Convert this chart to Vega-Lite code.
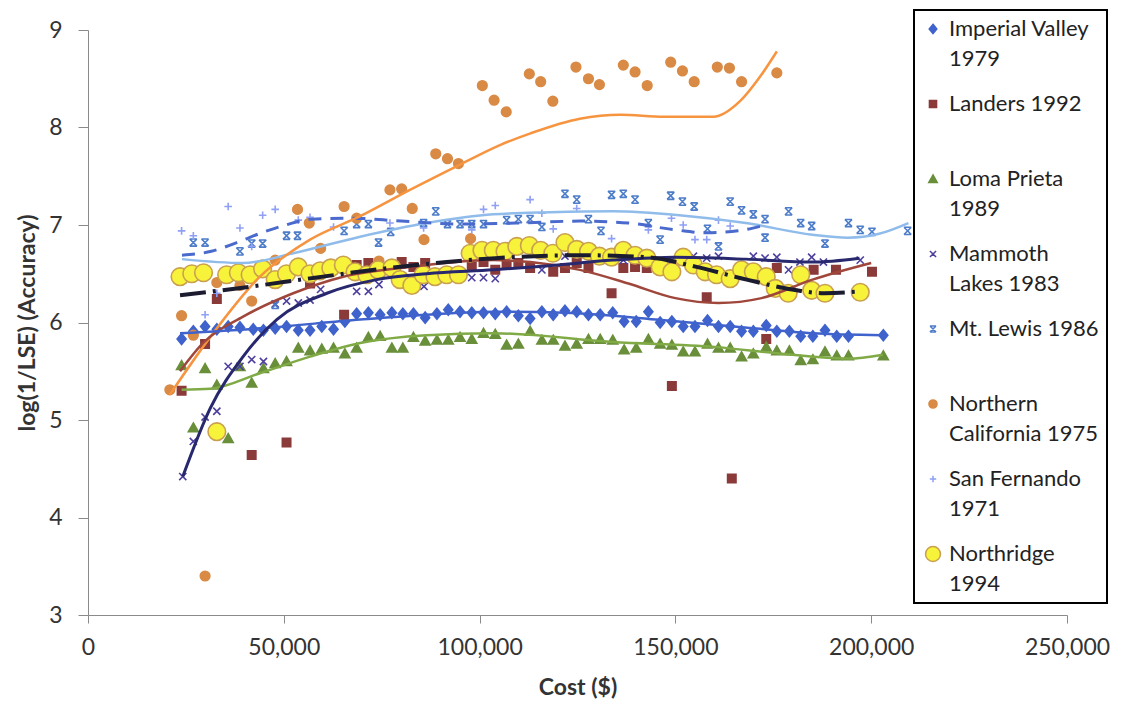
{
  "$schema": "https://vega.github.io/schema/vega-lite/v6.json",
  "width": 979,
  "height": 585,
  "autosize": {"type": "none"},
  "padding": {"left": 88, "top": 30, "right": 55, "bottom": 93},
  "background": "white",
  "config": {"view": {"stroke": null}, "font": "Lato", "legend": {"strokeWidth": 2}, "style": {"guide-label": {"lineHeight": 30}}},
  "datasets": {
    "pts": [
      {"s":"Imperial Valley 1979","x":23900,"y":5.83},{"s":"Imperial Valley 1979","x":26900,"y":5.91},{"s":"Imperial Valley 1979","x":29900,"y":5.96},{"s":"Imperial Valley 1979","x":32900,"y":5.93},{"s":"Imperial Valley 1979","x":35800,"y":5.96},{"s":"Imperial Valley 1979","x":38800,"y":5.95},{"s":"Imperial Valley 1979","x":42200,"y":5.93},{"s":"Imperial Valley 1979","x":44800,"y":5.92},{"s":"Imperial Valley 1979","x":47800,"y":5.94},{"s":"Imperial Valley 1979","x":50700,"y":5.96},{"s":"Imperial Valley 1979","x":53700,"y":5.92},{"s":"Imperial Valley 1979","x":56700,"y":5.92},{"s":"Imperial Valley 1979","x":59700,"y":5.96},{"s":"Imperial Valley 1979","x":62700,"y":5.93},{"s":"Imperial Valley 1979","x":65600,"y":6.01},{"s":"Imperial Valley 1979","x":68600,"y":6.09},{"s":"Imperial Valley 1979","x":71600,"y":6.10},{"s":"Imperial Valley 1979","x":74600,"y":6.08},{"s":"Imperial Valley 1979","x":77600,"y":6.10},{"s":"Imperial Valley 1979","x":80400,"y":6.09},{"s":"Imperial Valley 1979","x":83100,"y":6.09},{"s":"Imperial Valley 1979","x":86100,"y":6.05},{"s":"Imperial Valley 1979","x":89100,"y":6.09},{"s":"Imperial Valley 1979","x":92000,"y":6.13},{"s":"Imperial Valley 1979","x":95000,"y":6.11},{"s":"Imperial Valley 1979","x":98000,"y":6.10},{"s":"Imperial Valley 1979","x":101000,"y":6.10},{"s":"Imperial Valley 1979","x":104000,"y":6.09},{"s":"Imperial Valley 1979","x":106900,"y":6.11},{"s":"Imperial Valley 1979","x":109900,"y":6.07},{"s":"Imperial Valley 1979","x":112900,"y":6.04},{"s":"Imperial Valley 1979","x":115900,"y":6.11},{"s":"Imperial Valley 1979","x":118800,"y":6.08},{"s":"Imperial Valley 1979","x":121800,"y":6.12},{"s":"Imperial Valley 1979","x":124800,"y":6.11},{"s":"Imperial Valley 1979","x":127800,"y":6.08},{"s":"Imperial Valley 1979","x":130800,"y":6.08},{"s":"Imperial Valley 1979","x":134000,"y":6.10},{"s":"Imperial Valley 1979","x":136900,"y":6.01},{"s":"Imperial Valley 1979","x":140000,"y":6.01},{"s":"Imperial Valley 1979","x":143100,"y":6.11},{"s":"Imperial Valley 1979","x":146100,"y":6.00},{"s":"Imperial Valley 1979","x":149100,"y":6.01},{"s":"Imperial Valley 1979","x":152000,"y":5.96},{"s":"Imperial Valley 1979","x":155000,"y":5.96},{"s":"Imperial Valley 1979","x":158200,"y":6.02},{"s":"Imperial Valley 1979","x":161000,"y":5.96},{"s":"Imperial Valley 1979","x":164000,"y":5.96},{"s":"Imperial Valley 1979","x":166900,"y":5.91},{"s":"Imperial Valley 1979","x":169900,"y":5.91},{"s":"Imperial Valley 1979","x":173200,"y":5.97},{"s":"Imperial Valley 1979","x":175900,"y":5.91},{"s":"Imperial Valley 1979","x":179100,"y":5.91},{"s":"Imperial Valley 1979","x":182000,"y":5.86},{"s":"Imperial Valley 1979","x":185100,"y":5.86},{"s":"Imperial Valley 1979","x":188200,"y":5.92},{"s":"Imperial Valley 1979","x":191200,"y":5.86},{"s":"Imperial Valley 1979","x":194200,"y":5.86},{"s":"Imperial Valley 1979","x":203100,"y":5.87},
      {"s":"Landers 1992","x":23900,"y":5.30},{"s":"Landers 1992","x":29900,"y":5.78},{"s":"Landers 1992","x":32900,"y":6.24},{"s":"Landers 1992","x":41800,"y":4.64},{"s":"Landers 1992","x":50700,"y":4.77},{"s":"Landers 1992","x":56700,"y":6.40},{"s":"Landers 1992","x":65400,"y":6.08},{"s":"Landers 1992","x":68600,"y":6.59},{"s":"Landers 1992","x":71600,"y":6.61},{"s":"Landers 1992","x":80100,"y":6.62},{"s":"Landers 1992","x":83100,"y":6.57},{"s":"Landers 1992","x":86100,"y":6.61},{"s":"Landers 1992","x":98000,"y":6.57},{"s":"Landers 1992","x":101000,"y":6.62},{"s":"Landers 1992","x":104000,"y":6.54},{"s":"Landers 1992","x":106900,"y":6.59},{"s":"Landers 1992","x":109900,"y":6.61},{"s":"Landers 1992","x":112900,"y":6.56},{"s":"Landers 1992","x":118800,"y":6.52},{"s":"Landers 1992","x":121800,"y":6.56},{"s":"Landers 1992","x":124800,"y":6.61},{"s":"Landers 1992","x":127800,"y":6.56},{"s":"Landers 1992","x":133700,"y":6.30},{"s":"Landers 1992","x":136700,"y":6.56},{"s":"Landers 1992","x":139700,"y":6.57},{"s":"Landers 1992","x":142700,"y":6.56},{"s":"Landers 1992","x":149100,"y":5.35},{"s":"Landers 1992","x":158000,"y":6.26},{"s":"Landers 1992","x":164400,"y":4.40},{"s":"Landers 1992","x":173200,"y":5.83},{"s":"Landers 1992","x":175900,"y":6.56},{"s":"Landers 1992","x":185300,"y":6.54},{"s":"Landers 1992","x":191000,"y":6.54},{"s":"Landers 1992","x":200200,"y":6.52},
      {"s":"Loma Prieta 1989","x":23900,"y":5.56},{"s":"Loma Prieta 1989","x":26900,"y":4.92},{"s":"Loma Prieta 1989","x":29900,"y":5.53},{"s":"Loma Prieta 1989","x":32900,"y":5.36},{"s":"Loma Prieta 1989","x":35800,"y":4.81},{"s":"Loma Prieta 1989","x":38800,"y":5.55},{"s":"Loma Prieta 1989","x":41800,"y":5.38},{"s":"Loma Prieta 1989","x":44800,"y":5.53},{"s":"Loma Prieta 1989","x":47800,"y":5.58},{"s":"Loma Prieta 1989","x":50700,"y":5.60},{"s":"Loma Prieta 1989","x":53700,"y":5.74},{"s":"Loma Prieta 1989","x":56700,"y":5.71},{"s":"Loma Prieta 1989","x":59700,"y":5.73},{"s":"Loma Prieta 1989","x":62700,"y":5.74},{"s":"Loma Prieta 1989","x":65600,"y":5.68},{"s":"Loma Prieta 1989","x":68600,"y":5.74},{"s":"Loma Prieta 1989","x":71600,"y":5.85},{"s":"Loma Prieta 1989","x":74600,"y":5.86},{"s":"Loma Prieta 1989","x":77600,"y":5.74},{"s":"Loma Prieta 1989","x":80400,"y":5.74},{"s":"Loma Prieta 1989","x":83100,"y":5.85},{"s":"Loma Prieta 1989","x":86100,"y":5.81},{"s":"Loma Prieta 1989","x":89100,"y":5.82},{"s":"Loma Prieta 1989","x":92000,"y":5.82},{"s":"Loma Prieta 1989","x":95000,"y":5.85},{"s":"Loma Prieta 1989","x":98000,"y":5.83},{"s":"Loma Prieta 1989","x":101000,"y":5.89},{"s":"Loma Prieta 1989","x":104000,"y":5.88},{"s":"Loma Prieta 1989","x":106900,"y":5.77},{"s":"Loma Prieta 1989","x":109900,"y":5.78},{"s":"Loma Prieta 1989","x":112900,"y":5.91},{"s":"Loma Prieta 1989","x":115900,"y":5.82},{"s":"Loma Prieta 1989","x":118800,"y":5.82},{"s":"Loma Prieta 1989","x":121800,"y":5.76},{"s":"Loma Prieta 1989","x":124800,"y":5.78},{"s":"Loma Prieta 1989","x":127800,"y":5.83},{"s":"Loma Prieta 1989","x":130800,"y":5.83},{"s":"Loma Prieta 1989","x":134000,"y":5.82},{"s":"Loma Prieta 1989","x":136900,"y":5.72},{"s":"Loma Prieta 1989","x":140000,"y":5.74},{"s":"Loma Prieta 1989","x":143100,"y":5.83},{"s":"Loma Prieta 1989","x":146100,"y":5.78},{"s":"Loma Prieta 1989","x":149100,"y":5.77},{"s":"Loma Prieta 1989","x":152000,"y":5.70},{"s":"Loma Prieta 1989","x":155000,"y":5.70},{"s":"Loma Prieta 1989","x":158200,"y":5.78},{"s":"Loma Prieta 1989","x":161000,"y":5.74},{"s":"Loma Prieta 1989","x":164000,"y":5.74},{"s":"Loma Prieta 1989","x":166900,"y":5.65},{"s":"Loma Prieta 1989","x":169900,"y":5.68},{"s":"Loma Prieta 1989","x":173200,"y":5.75},{"s":"Loma Prieta 1989","x":175900,"y":5.71},{"s":"Loma Prieta 1989","x":179100,"y":5.71},{"s":"Loma Prieta 1989","x":182000,"y":5.61},{"s":"Loma Prieta 1989","x":185100,"y":5.62},{"s":"Loma Prieta 1989","x":188200,"y":5.70},{"s":"Loma Prieta 1989","x":191200,"y":5.66},{"s":"Loma Prieta 1989","x":194200,"y":5.66},{"s":"Loma Prieta 1989","x":203100,"y":5.66},
      {"s":"Mammoth Lakes 1983","x":24200,"y":4.42},{"s":"Mammoth Lakes 1983","x":26900,"y":4.78},{"s":"Mammoth Lakes 1983","x":29900,"y":5.03},{"s":"Mammoth Lakes 1983","x":32900,"y":5.09},{"s":"Mammoth Lakes 1983","x":35800,"y":5.55},{"s":"Mammoth Lakes 1983","x":38800,"y":5.55},{"s":"Mammoth Lakes 1983","x":41800,"y":5.62},{"s":"Mammoth Lakes 1983","x":44800,"y":5.60},{"s":"Mammoth Lakes 1983","x":47800,"y":6.19},{"s":"Mammoth Lakes 1983","x":50700,"y":6.22},{"s":"Mammoth Lakes 1983","x":53700,"y":6.20},{"s":"Mammoth Lakes 1983","x":56700,"y":6.23},{"s":"Mammoth Lakes 1983","x":59400,"y":6.34},{"s":"Mammoth Lakes 1983","x":68600,"y":6.32},{"s":"Mammoth Lakes 1983","x":71600,"y":6.32},{"s":"Mammoth Lakes 1983","x":74300,"y":6.39},{"s":"Mammoth Lakes 1983","x":85800,"y":6.37},{"s":"Mammoth Lakes 1983","x":98000,"y":6.46},{"s":"Mammoth Lakes 1983","x":101000,"y":6.46},{"s":"Mammoth Lakes 1983","x":104000,"y":6.45},{"s":"Mammoth Lakes 1983","x":115900,"y":6.54},{"s":"Mammoth Lakes 1983","x":121800,"y":6.68},{"s":"Mammoth Lakes 1983","x":136700,"y":6.64},{"s":"Mammoth Lakes 1983","x":149100,"y":6.64},{"s":"Mammoth Lakes 1983","x":154600,"y":6.68},{"s":"Mammoth Lakes 1983","x":158000,"y":6.66},{"s":"Mammoth Lakes 1983","x":161000,"y":6.68},{"s":"Mammoth Lakes 1983","x":169900,"y":6.68},{"s":"Mammoth Lakes 1983","x":172900,"y":6.66},{"s":"Mammoth Lakes 1983","x":175900,"y":6.67},{"s":"Mammoth Lakes 1983","x":178900,"y":6.54},{"s":"Mammoth Lakes 1983","x":181800,"y":6.62},{"s":"Mammoth Lakes 1983","x":184800,"y":6.67},{"s":"Mammoth Lakes 1983","x":187800,"y":6.62},{"s":"Mammoth Lakes 1983","x":197200,"y":6.64},
      {"s":"Mt. Lewis 1986","x":26900,"y":6.82},{"s":"Mt. Lewis 1986","x":29900,"y":6.82},{"s":"Mt. Lewis 1986","x":38800,"y":6.73},{"s":"Mt. Lewis 1986","x":41800,"y":6.81},{"s":"Mt. Lewis 1986","x":44600,"y":6.81},{"s":"Mt. Lewis 1986","x":47800,"y":6.18},{"s":"Mt. Lewis 1986","x":50700,"y":6.89},{"s":"Mt. Lewis 1986","x":53500,"y":6.89},{"s":"Mt. Lewis 1986","x":65400,"y":6.94},{"s":"Mt. Lewis 1986","x":68600,"y":7.01},{"s":"Mt. Lewis 1986","x":71600,"y":7.01},{"s":"Mt. Lewis 1986","x":74200,"y":6.82},{"s":"Mt. Lewis 1986","x":77300,"y":6.93},{"s":"Mt. Lewis 1986","x":85700,"y":7.02},{"s":"Mt. Lewis 1986","x":88800,"y":7.14},{"s":"Mt. Lewis 1986","x":91800,"y":7.01},{"s":"Mt. Lewis 1986","x":95000,"y":7.01},{"s":"Mt. Lewis 1986","x":98000,"y":7.01},{"s":"Mt. Lewis 1986","x":101000,"y":7.01},{"s":"Mt. Lewis 1986","x":106900,"y":7.05},{"s":"Mt. Lewis 1986","x":109900,"y":7.06},{"s":"Mt. Lewis 1986","x":112900,"y":7.06},{"s":"Mt. Lewis 1986","x":115900,"y":6.98},{"s":"Mt. Lewis 1986","x":121800,"y":7.32},{"s":"Mt. Lewis 1986","x":124800,"y":7.26},{"s":"Mt. Lewis 1986","x":127800,"y":7.06},{"s":"Mt. Lewis 1986","x":131000,"y":6.94},{"s":"Mt. Lewis 1986","x":133700,"y":7.31},{"s":"Mt. Lewis 1986","x":136700,"y":7.32},{"s":"Mt. Lewis 1986","x":139700,"y":7.26},{"s":"Mt. Lewis 1986","x":143100,"y":7.02},{"s":"Mt. Lewis 1986","x":146100,"y":6.85},{"s":"Mt. Lewis 1986","x":148800,"y":7.30},{"s":"Mt. Lewis 1986","x":151800,"y":7.24},{"s":"Mt. Lewis 1986","x":154800,"y":7.19},{"s":"Mt. Lewis 1986","x":158200,"y":6.96},{"s":"Mt. Lewis 1986","x":161000,"y":6.78},{"s":"Mt. Lewis 1986","x":164000,"y":7.24},{"s":"Mt. Lewis 1986","x":166900,"y":7.15},{"s":"Mt. Lewis 1986","x":169900,"y":7.11},{"s":"Mt. Lewis 1986","x":172900,"y":7.06},{"s":"Mt. Lewis 1986","x":172900,"y":6.87},{"s":"Mt. Lewis 1986","x":178900,"y":7.14},{"s":"Mt. Lewis 1986","x":182000,"y":7.02},{"s":"Mt. Lewis 1986","x":184800,"y":6.99},{"s":"Mt. Lewis 1986","x":188200,"y":6.81},{"s":"Mt. Lewis 1986","x":194200,"y":7.02},{"s":"Mt. Lewis 1986","x":197200,"y":6.95},{"s":"Mt. Lewis 1986","x":200200,"y":6.93},{"s":"Mt. Lewis 1986","x":209300,"y":6.94},
      {"s":"Northern California 1975","x":20900,"y":5.31},{"s":"Northern California 1975","x":23900,"y":6.07},{"s":"Northern California 1975","x":26900,"y":5.87},{"s":"Northern California 1975","x":29900,"y":3.40},{"s":"Northern California 1975","x":32900,"y":6.41},{"s":"Northern California 1975","x":38800,"y":6.38},{"s":"Northern California 1975","x":41800,"y":6.22},{"s":"Northern California 1975","x":47800,"y":6.64},{"s":"Northern California 1975","x":53500,"y":7.16},{"s":"Northern California 1975","x":56500,"y":7.02},{"s":"Northern California 1975","x":59400,"y":6.76},{"s":"Northern California 1975","x":65400,"y":7.19},{"s":"Northern California 1975","x":68600,"y":7.07},{"s":"Northern California 1975","x":74300,"y":6.63},{"s":"Northern California 1975","x":77100,"y":7.36},{"s":"Northern California 1975","x":80100,"y":7.37},{"s":"Northern California 1975","x":82800,"y":7.17},{"s":"Northern California 1975","x":85800,"y":6.85},{"s":"Northern California 1975","x":88800,"y":7.73},{"s":"Northern California 1975","x":91800,"y":7.68},{"s":"Northern California 1975","x":94600,"y":7.63},{"s":"Northern California 1975","x":97700,"y":6.86},{"s":"Northern California 1975","x":100700,"y":8.43},{"s":"Northern California 1975","x":103700,"y":8.28},{"s":"Northern California 1975","x":106800,"y":8.16},{"s":"Northern California 1975","x":112700,"y":8.55},{"s":"Northern California 1975","x":115600,"y":8.47},{"s":"Northern California 1975","x":118700,"y":8.27},{"s":"Northern California 1975","x":124600,"y":8.62},{"s":"Northern California 1975","x":127800,"y":8.50},{"s":"Northern California 1975","x":130600,"y":8.44},{"s":"Northern California 1975","x":136700,"y":8.64},{"s":"Northern California 1975","x":139700,"y":8.57},{"s":"Northern California 1975","x":142800,"y":8.43},{"s":"Northern California 1975","x":148800,"y":8.67},{"s":"Northern California 1975","x":151800,"y":8.58},{"s":"Northern California 1975","x":154800,"y":8.47},{"s":"Northern California 1975","x":160700,"y":8.62},{"s":"Northern California 1975","x":163800,"y":8.61},{"s":"Northern California 1975","x":166900,"y":8.47},{"s":"Northern California 1975","x":175900,"y":8.56},
      {"s":"San Fernando 1971","x":23900,"y":6.94},{"s":"San Fernando 1971","x":26900,"y":6.89},{"s":"San Fernando 1971","x":29900,"y":6.08},{"s":"San Fernando 1971","x":32900,"y":6.30},{"s":"San Fernando 1971","x":35800,"y":7.19},{"s":"San Fernando 1971","x":38800,"y":6.97},{"s":"San Fernando 1971","x":41800,"y":6.78},{"s":"San Fernando 1971","x":44600,"y":7.10},{"s":"San Fernando 1971","x":47800,"y":7.16},{"s":"San Fernando 1971","x":53700,"y":7.05},{"s":"San Fernando 1971","x":56700,"y":7.08},{"s":"San Fernando 1971","x":62700,"y":6.98},{"s":"San Fernando 1971","x":77100,"y":7.02},{"s":"San Fernando 1971","x":85700,"y":6.97},{"s":"San Fernando 1971","x":98000,"y":6.95},{"s":"San Fernando 1971","x":101000,"y":7.16},{"s":"San Fernando 1971","x":104000,"y":7.20},{"s":"San Fernando 1971","x":112900,"y":7.26},{"s":"San Fernando 1971","x":115900,"y":7.12},{"s":"San Fernando 1971","x":118800,"y":6.96},{"s":"San Fernando 1971","x":124800,"y":7.17},{"s":"San Fernando 1971","x":133700,"y":6.86},{"s":"San Fernando 1971","x":143100,"y":6.95},{"s":"San Fernando 1971","x":149000,"y":7.07},{"s":"San Fernando 1971","x":152000,"y":7.00},{"s":"San Fernando 1971","x":155000,"y":6.85},{"s":"San Fernando 1971","x":158000,"y":6.85},{"s":"San Fernando 1971","x":161000,"y":7.05},{"s":"San Fernando 1971","x":164000,"y":6.99},
      {"s":"Northridge 1994","x":23500,"y":6.47},{"s":"Northridge 1994","x":26500,"y":6.50},{"s":"Northridge 1994","x":29500,"y":6.51},{"s":"Northridge 1994","x":32900,"y":4.88},{"s":"Northridge 1994","x":35400,"y":6.49},{"s":"Northridge 1994","x":38400,"y":6.51},{"s":"Northridge 1994","x":41400,"y":6.49},{"s":"Northridge 1994","x":44600,"y":6.55},{"s":"Northridge 1994","x":47800,"y":6.44},{"s":"Northridge 1994","x":50700,"y":6.50},{"s":"Northridge 1994","x":53700,"y":6.57},{"s":"Northridge 1994","x":56700,"y":6.50},{"s":"Northridge 1994","x":59300,"y":6.53},{"s":"Northridge 1994","x":62000,"y":6.56},{"s":"Northridge 1994","x":65200,"y":6.59},{"s":"Northridge 1994","x":68200,"y":6.52},{"s":"Northridge 1994","x":71200,"y":6.49},{"s":"Northridge 1994","x":74100,"y":6.54},{"s":"Northridge 1994","x":77600,"y":6.56},{"s":"Northridge 1994","x":79700,"y":6.44},{"s":"Northridge 1994","x":82700,"y":6.38},{"s":"Northridge 1994","x":85600,"y":6.49},{"s":"Northridge 1994","x":88600,"y":6.47},{"s":"Northridge 1994","x":91600,"y":6.49},{"s":"Northridge 1994","x":94600,"y":6.49},{"s":"Northridge 1994","x":97600,"y":6.71},{"s":"Northridge 1994","x":100600,"y":6.74},{"s":"Northridge 1994","x":103500,"y":6.74},{"s":"Northridge 1994","x":106500,"y":6.73},{"s":"Northridge 1994","x":109500,"y":6.78},{"s":"Northridge 1994","x":112700,"y":6.79},{"s":"Northridge 1994","x":115600,"y":6.74},{"s":"Northridge 1994","x":118700,"y":6.71},{"s":"Northridge 1994","x":121800,"y":6.82},{"s":"Northridge 1994","x":124800,"y":6.75},{"s":"Northridge 1994","x":127800,"y":6.73},{"s":"Northridge 1994","x":130600,"y":6.68},{"s":"Northridge 1994","x":133700,"y":6.67},{"s":"Northridge 1994","x":136700,"y":6.74},{"s":"Northridge 1994","x":139700,"y":6.69},{"s":"Northridge 1994","x":142700,"y":6.66},{"s":"Northridge 1994","x":146100,"y":6.57},{"s":"Northridge 1994","x":149100,"y":6.52},{"s":"Northridge 1994","x":152000,"y":6.67},{"s":"Northridge 1994","x":154600,"y":6.59},{"s":"Northridge 1994","x":157600,"y":6.52},{"s":"Northridge 1994","x":160500,"y":6.49},{"s":"Northridge 1994","x":164000,"y":6.45},{"s":"Northridge 1994","x":166900,"y":6.54},{"s":"Northridge 1994","x":169900,"y":6.52},{"s":"Northridge 1994","x":173200,"y":6.47},{"s":"Northridge 1994","x":175500,"y":6.35},{"s":"Northridge 1994","x":178800,"y":6.30},{"s":"Northridge 1994","x":182000,"y":6.49},{"s":"Northridge 1994","x":184800,"y":6.33},{"s":"Northridge 1994","x":188200,"y":6.30},{"s":"Northridge 1994","x":197200,"y":6.31}
    ],
    "trend": [
      {"t":"mtl","x":24000,"y":6.65},{"t":"mtl","x":39600,"y":6.61},{"t":"mtl","x":52400,"y":6.71},{"t":"mtl","x":69500,"y":6.88},{"t":"mtl","x":86500,"y":7.02},{"t":"mtl","x":103500,"y":7.11},{"t":"mtl","x":118000,"y":7.13},{"t":"mtl","x":134000,"y":7.14},{"t":"mtl","x":151000,"y":7.10},{"t":"mtl","x":168000,"y":7.02},{"t":"mtl","x":185000,"y":6.90},{"t":"mtl","x":194000,"y":6.87},{"t":"mtl","x":202000,"y":6.91},{"t":"mtl","x":209500,"y":7.02},
      {"t":"sf","x":24000,"y":6.69},{"t":"sf","x":31500,"y":6.73},{"t":"sf","x":38000,"y":6.82},{"t":"sf","x":45000,"y":6.93},{"t":"sf","x":50500,"y":7.00},{"t":"sf","x":57000,"y":7.06},{"t":"sf","x":67000,"y":7.07},{"t":"sf","x":80000,"y":7.04},{"t":"sf","x":95000,"y":7.01},{"t":"sf","x":110000,"y":7.02},{"t":"sf","x":125600,"y":7.04},{"t":"sf","x":138000,"y":7.02},{"t":"sf","x":150000,"y":6.95},{"t":"sf","x":158000,"y":6.92},{"t":"sf","x":166000,"y":6.94},{"t":"sf","x":172000,"y":6.99},
      {"t":"nc","x":20900,"y":5.26},{"t":"nc","x":31200,"y":5.85},{"t":"nc","x":43900,"y":6.47},{"t":"nc","x":56700,"y":6.85},{"t":"nc","x":69500,"y":7.09},{"t":"nc","x":82200,"y":7.36},{"t":"nc","x":95000,"y":7.62},{"t":"nc","x":105200,"y":7.82},{"t":"nc","x":113000,"y":7.94},{"t":"nc","x":125600,"y":8.09},{"t":"nc","x":136000,"y":8.13},{"t":"nc","x":147000,"y":8.11},{"t":"nc","x":159700,"y":8.11},{"t":"nc","x":166500,"y":8.27},{"t":"nc","x":171600,"y":8.52},{"t":"nc","x":175900,"y":8.78},
      {"t":"la","x":23500,"y":5.50},{"t":"la","x":29400,"y":5.79},{"t":"la","x":39600,"y":6.06},{"t":"la","x":52400,"y":6.30},{"t":"la","x":65200,"y":6.47},{"t":"la","x":82200,"y":6.57},{"t":"la","x":103500,"y":6.64},{"t":"la","x":113000,"y":6.62},{"t":"la","x":125600,"y":6.54},{"t":"la","x":138000,"y":6.40},{"t":"la","x":150000,"y":6.25},{"t":"la","x":161000,"y":6.20},{"t":"la","x":172000,"y":6.25},{"t":"la","x":185000,"y":6.44},{"t":"la","x":200000,"y":6.61},
      {"t":"lp","x":23900,"y":5.31},{"t":"lp","x":31200,"y":5.32},{"t":"lp","x":43900,"y":5.48},{"t":"lp","x":56700,"y":5.65},{"t":"lp","x":69500,"y":5.79},{"t":"lp","x":86500,"y":5.87},{"t":"lp","x":103500,"y":5.89},{"t":"lp","x":134000,"y":5.80},{"t":"lp","x":160000,"y":5.75},{"t":"lp","x":177000,"y":5.68},{"t":"lp","x":194000,"y":5.63},{"t":"lp","x":203000,"y":5.67},
      {"t":"iv","x":23500,"y":5.89},{"t":"iv","x":43900,"y":5.94},{"t":"iv","x":69500,"y":6.03},{"t":"iv","x":86500,"y":6.08},{"t":"iv","x":103500,"y":6.11},{"t":"iv","x":122000,"y":6.10},{"t":"iv","x":145000,"y":6.03},{"t":"iv","x":165000,"y":5.96},{"t":"iv","x":185000,"y":5.89},{"t":"iv","x":203000,"y":5.87},
      {"t":"ml","x":24200,"y":4.42},{"t":"ml","x":31200,"y":5.12},{"t":"ml","x":39600,"y":5.65},{"t":"ml","x":48200,"y":6.03},{"t":"ml","x":61000,"y":6.30},{"t":"ml","x":73700,"y":6.44},{"t":"ml","x":86500,"y":6.50},{"t":"ml","x":103500,"y":6.54},{"t":"ml","x":117000,"y":6.58},{"t":"ml","x":134000,"y":6.64},{"t":"ml","x":150000,"y":6.67},{"t":"ml","x":168000,"y":6.65},{"t":"ml","x":185000,"y":6.62},{"t":"ml","x":197000,"y":6.66},
      {"t":"nr","x":23500,"y":6.28},{"t":"nr","x":40000,"y":6.36},{"t":"nr","x":58000,"y":6.46},{"t":"nr","x":75000,"y":6.55},{"t":"nr","x":91600,"y":6.62},{"t":"nr","x":104000,"y":6.66},{"t":"nr","x":125600,"y":6.69},{"t":"nr","x":142700,"y":6.67},{"t":"nr","x":155400,"y":6.57},{"t":"nr","x":168200,"y":6.44},{"t":"nr","x":181000,"y":6.33},{"t":"nr","x":188000,"y":6.30},{"t":"nr","x":197200,"y":6.32}
    ]
  },
  "encoding": {
    "x": {
      "field": "x", "type": "quantitative",
      "scale": {"domain": [0, 250000], "nice": false, "zero": false},
      "axis": {
        "values": [0, 50000, 100000, 150000, 200000, 250000], "format": ",.0f",
        "title": "Cost ($)", "grid": false, "labelFlush": false,
        "domainColor": "#8a8a8a", "tickColor": "#8a8a8a", "tickSize": 8,
        "labelFont": "Lato", "labelFontSize": 23, "labelColor": "#333333", "labelPadding": 13,
        "titleFont": "Lato", "titleFontSize": 23, "titleFontWeight": "bold", "titleColor": "#333333",
        "titleY": 61, "titleBaseline": "top"
      }
    },
    "y": {
      "field": "y", "type": "quantitative",
      "scale": {"domain": [3, 9], "nice": false, "zero": false},
      "axis": {
        "values": [3, 4, 5, 6, 7, 8, 9], "title": "log(1/LSE) (Accuracy)", "grid": false,
        "domainColor": "#8a8a8a", "tickColor": "#8a8a8a", "tickSize": 10,
        "labelFont": "Lato", "labelFontSize": 23, "labelColor": "#333333", "labelPadding": 16,
        "titleFont": "Lato", "titleFontSize": 23, "titleFontWeight": "bold", "titleColor": "#333333",
        "titleX": -54, "titleBaseline": "alphabetic"
      }
    }
  },
  "layer": [
    {
      "data": {"name": "pts"},
      "mark": {"type": "point", "filled": true, "size": 400, "strokeWidth": 1.6, "opacity": 1},
      "encoding": {
        "fill": {
          "field": "s", "type": "nominal",
          "scale": {
            "domain": ["Imperial Valley 1979", "Landers 1992", "Loma Prieta 1989", "Mammoth Lakes 1983", "Mt. Lewis 1986", "Northern California 1975", "San Fernando 1971", "Northridge 1994"],
            "range": ["#3F62CC", "#8B3A3A", "#6A8F3A", "transparent", "transparent", "#D98A45", "transparent", "#F7F23A"]
          },
          "legend": {
            "title": null, "orient": "none", "legendX": 826, "legendY": -20, "direction": "vertical",
            "padding": 8, "rowPadding": 23, "strokeColor": "#000000", "fillColor": "white",
            "symbolSize": 289, "symbolStrokeWidth": 1.5, "labelFont": "Lato", "labelFontSize": 22,
            "labelColor": "#222222", "labelLimit": 260, "labelOffset": 5,
            "labelExpr": "({'Imperial Valley 1979':['Imperial Valley','1979'],'Landers 1992':['Landers 1992',''],'Loma Prieta 1989':['Loma Prieta','1989'],'Mammoth Lakes 1983':['Mammoth','Lakes 1983'],'Mt. Lewis 1986':['Mt. Lewis 1986',''],'Northern California 1975':['Northern','California 1975'],'San Fernando 1971':['San Fernando','1971'],'Northridge 1994':['Northridge','1994']})[datum.label]"
          }
        },
        "stroke": {
          "field": "s", "type": "nominal",
          "scale": {
            "domain": ["Imperial Valley 1979", "Landers 1992", "Loma Prieta 1989", "Mammoth Lakes 1983", "Mt. Lewis 1986", "Northern California 1975", "San Fernando 1971", "Northridge 1994"],
            "range": ["#3F62CC", "#8B3A3A", "#6A8F3A", "#4C3F9E", "#4D7CC9", "#D98A45", "#8FA0F5", "#C9A04F"]
          },
          "legend": {
            "title": null, "orient": "none", "legendX": 826, "legendY": -20, "direction": "vertical",
            "padding": 8, "rowPadding": 23, "strokeColor": "#000000", "fillColor": "white",
            "symbolSize": 289, "symbolStrokeWidth": 1.5, "labelFont": "Lato", "labelFontSize": 22,
            "labelColor": "#222222", "labelLimit": 260, "labelOffset": 5,
            "labelExpr": "({'Imperial Valley 1979':['Imperial Valley','1979'],'Landers 1992':['Landers 1992',''],'Loma Prieta 1989':['Loma Prieta','1989'],'Mammoth Lakes 1983':['Mammoth','Lakes 1983'],'Mt. Lewis 1986':['Mt. Lewis 1986',''],'Northern California 1975':['Northern','California 1975'],'San Fernando 1971':['San Fernando','1971'],'Northridge 1994':['Northridge','1994']})[datum.label]"
          }
        },
        "shape": {
          "field": "s", "type": "nominal",
          "scale": {
            "domain": ["Imperial Valley 1979", "Landers 1992", "Loma Prieta 1989", "Mammoth Lakes 1983", "Mt. Lewis 1986", "Northern California 1975", "San Fernando 1971", "Northridge 1994"],
            "range": [
              "M0,-0.55L0.45,0L0,0.55L-0.45,0Z",
              "M-0.42,-0.42H0.42V0.42H-0.42Z",
              "M0,-0.48L0.5,0.4H-0.5Z",
              "M-0.36,-0.36L0.36,0.36M0.36,-0.36L-0.36,0.36",
              "M-0.36,-0.36L0.36,0.36M0.36,-0.36L-0.36,0.36M-0.36,-0.36H0.36M-0.36,0.36H0.36",
              "M-0.48,0A0.48,0.48 0 1,0 0.48,0A0.48,0.48 0 1,0 -0.48,0Z",
              "M-0.38,0H0.38M0,-0.38V0.38",
              "M-0.88,0A0.88,0.88 0 1,0 0.88,0A0.88,0.88 0 1,0 -0.88,0Z"
            ]
          },
          "legend": {
            "title": null, "orient": "none", "legendX": 826, "legendY": -20, "direction": "vertical",
            "padding": 8, "rowPadding": 23, "strokeColor": "#000000", "fillColor": "white",
            "symbolSize": 289, "symbolStrokeWidth": 1.5, "labelFont": "Lato", "labelFontSize": 22,
            "labelColor": "#222222", "labelLimit": 260, "labelOffset": 5,
            "labelExpr": "({'Imperial Valley 1979':['Imperial Valley','1979'],'Landers 1992':['Landers 1992',''],'Loma Prieta 1989':['Loma Prieta','1989'],'Mammoth Lakes 1983':['Mammoth','Lakes 1983'],'Mt. Lewis 1986':['Mt. Lewis 1986',''],'Northern California 1975':['Northern','California 1975'],'San Fernando 1971':['San Fernando','1971'],'Northridge 1994':['Northridge','1994']})[datum.label]"
          }
        }
      }
    },
    {"data": {"name": "trend"}, "transform": [{"filter": "datum.t === 'mtl'"}], "mark": {"type": "line", "color": "#90BCEB", "strokeWidth": 2.5, "interpolate": "monotone"}, "encoding": {}},
    {"data": {"name": "trend"}, "transform": [{"filter": "datum.t === 'sf'"}], "mark": {"type": "line", "color": "#4A6ACD", "strokeWidth": 3, "strokeDash": [13, 9], "interpolate": "monotone"}, "encoding": {}},
    {"data": {"name": "trend"}, "transform": [{"filter": "datum.t === 'nc'"}], "mark": {"type": "line", "color": "#F7943F", "strokeWidth": 2.5, "interpolate": "monotone"}, "encoding": {}},
    {"data": {"name": "trend"}, "transform": [{"filter": "datum.t === 'la'"}], "mark": {"type": "line", "color": "#A0473C", "strokeWidth": 2.5, "interpolate": "monotone"}, "encoding": {}},
    {"data": {"name": "trend"}, "transform": [{"filter": "datum.t === 'lp'"}], "mark": {"type": "line", "color": "#7FAA45", "strokeWidth": 2.5, "interpolate": "monotone"}, "encoding": {}},
    {"data": {"name": "trend"}, "transform": [{"filter": "datum.t === 'iv'"}], "mark": {"type": "line", "color": "#3F62CC", "strokeWidth": 2.5, "interpolate": "monotone"}, "encoding": {}},
    {"data": {"name": "trend"}, "transform": [{"filter": "datum.t === 'ml'"}], "mark": {"type": "line", "color": "#28286E", "strokeWidth": 3, "interpolate": "monotone"}, "encoding": {}},
    {"data": {"name": "trend"}, "transform": [{"filter": "datum.t === 'nr'"}], "mark": {"type": "line", "color": "#1C1C30", "strokeWidth": 4, "strokeDash": [26, 7, 3, 7], "interpolate": "monotone"}, "encoding": {}}
  ]
}
